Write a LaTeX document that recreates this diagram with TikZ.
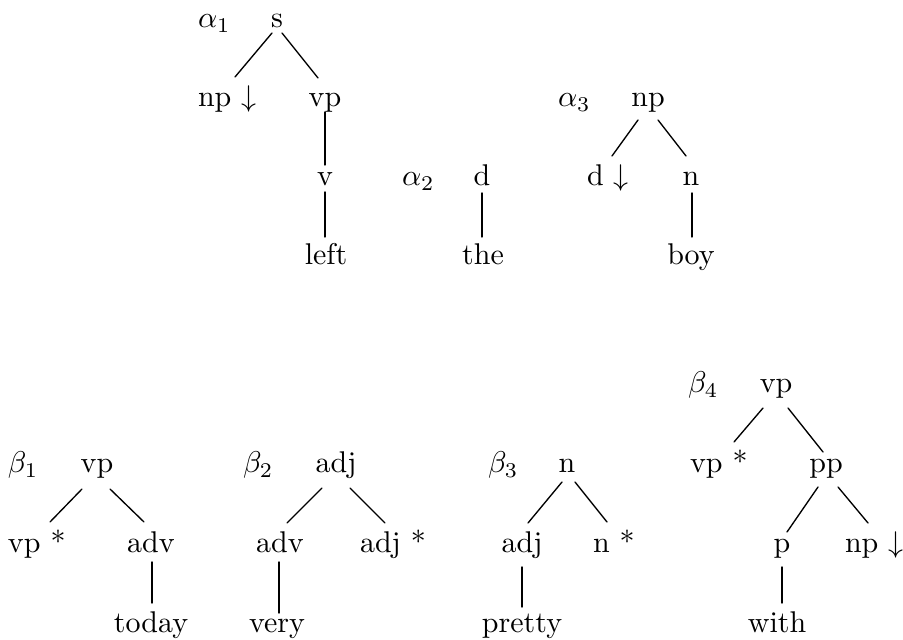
\documentclass[tikz,border=0pt]{standalone}
\usetikzlibrary{calc}
\tikzset{
  lab/.style={inner sep=0pt, outer sep=0pt, anchor=base},
  labw/.style={inner sep=0pt, outer sep=0pt, anchor=base west},
  edge/.style={line width=0.45pt, line cap=round}
}
\newcommand\treeedge[4]{\draw[edge] ($(#1)+#2$) -- ($(#3)+#4$);}
\begin{document}
\begin{tikzpicture}[x=0.3333pt,y=-0.3333pt]
\useasboundingbox (0,0) rectangle (903,640);
% alpha 1
\node[labw] (a1lab) at (198,28) {$\alpha_1$};
\node[lab] (a1s) at (277,28) {s};
\node[labw] (a1np) at (198,107) {np $\downarrow$};
\node[lab] (a1vp) at (325,107) {vp};
\node[lab] (a1v) at (325,186) {v};
\node[lab] (a1left) at (326,265) {left};
% alpha 2
\node[labw] (a2lab) at (402,186) {$\alpha_2$};
\node[lab] (a2d) at (482,186) {d};
\node[lab] (a2the) at (483,265) {the};
% alpha 3
\node[labw] (a3lab) at (558,107) {$\alpha_3$};
\node[lab] (a3np) at (648,107) {np};
\node[labw] (a3d) at (587,186) {d $\downarrow$};
\node[lab] (a3n) at (691,186) {n};
\node[lab] (a3boy) at (691,265) {boy};
% beta 1
\node[labw] (b1lab) at (8,473) {$\beta_1$};
\node[lab] (b1vp) at (97,473) {vp};
\node[labw] (b1vps) at (8,552) {vp *};
\node[lab] (b1adv) at (151,552) {adv};
\node[lab] (b1today) at (151,632) {today};
% beta 2
\node[labw] (b2lab) at (243,473) {$\beta_2$};
\node[lab] (b2adj) at (336,473) {adj};
\node[lab] (b2adv) at (280,552) {adv};
\node[labw] (b2adjs) at (360,552) {adj *};
\node[lab] (b2very) at (277,632) {very};
% beta 3
\node[labw] (b3lab) at (488,473) {$\beta_3$};
\node[lab] (b3n) at (567,473) {n};
\node[lab] (b3adj) at (522,552) {adj};
\node[labw] (b3ns) at (593,552) {n *};
\node[lab] (b3pretty) at (522,632) {pretty};
% beta 4
\node[labw] (b4lab) at (688,393) {$\beta_4$};
\node[lab] (b4vp) at (776,393) {vp};
\node[labw] (b4vps) at (690,473) {vp *};
\node[lab] (b4pp) at (826,473) {pp};
\node[lab] (b4p) at (782,552) {p};
\node[labw] (b4nps) at (845,552) {np $\downarrow$};
\node[lab] (b4with) at (777,632) {with};
% edges alpha
\treeedge{a1s.base}{(-5,5)}{a1np.base west}{(37,-30)}
\treeedge{a1s.base}{(5,5)}{a1vp.base}{(-7,-29)}
\treeedge{a1vp.base}{(0,5)}{a1v.base}{(0,-21)}
\treeedge{a1v.base}{(0,6)}{a1left.base}{(-1,-28)}
\treeedge{a2d.base}{(0,7)}{a2the.base}{(-1,-28)}
\treeedge{a3np.base}{(-10,13)}{a3d.base west}{(25,-30)}
\treeedge{a3np.base}{(10,13)}{a3n.base}{(-5,-30)}
\treeedge{a3n.base}{(1,7)}{a3boy.base}{(1,-28)}
% edges beta
\treeedge{b1vp.base}{(-15,16)}{b1vps.base west}{(42,-30)}
\treeedge{b1vp.base}{(13,16)}{b1adv.base}{(-7,-30)}
\treeedge{b1adv.base}{(1,10)}{b1today.base}{(1,-29)}
\treeedge{b2adj.base}{(-14,15)}{b2adv.base}{(7,-29)}
\treeedge{b2adj.base}{(14,15)}{b2adjs.base west}{(25,-29)}
\treeedge{b2adv.base}{(-1,10)}{b2very.base}{(2,-19)}
\treeedge{b3n.base}{(-5,9)}{b3adj.base}{(6,-29)}
\treeedge{b3n.base}{(8,9)}{b3ns.base west}{(14,-30)}
\treeedge{b3adj.base}{(0,15)}{b3pretty.base}{(0,-25)}
\treeedge{b4vp.base}{(-13,15)}{b4vps.base west}{(44,-31)}
\treeedge{b4vp.base}{(12,15)}{b4pp.base}{(-3,-21)}
\treeedge{b4pp.base}{(-8,14)}{b4p.base}{(5,-20)}
\treeedge{b4pp.base}{(12,14)}{b4nps.base west}{(23,-29)}
\treeedge{b4p.base}{(0,15)}{b4with.base}{(5,-29)}
\end{tikzpicture}
\end{document}
